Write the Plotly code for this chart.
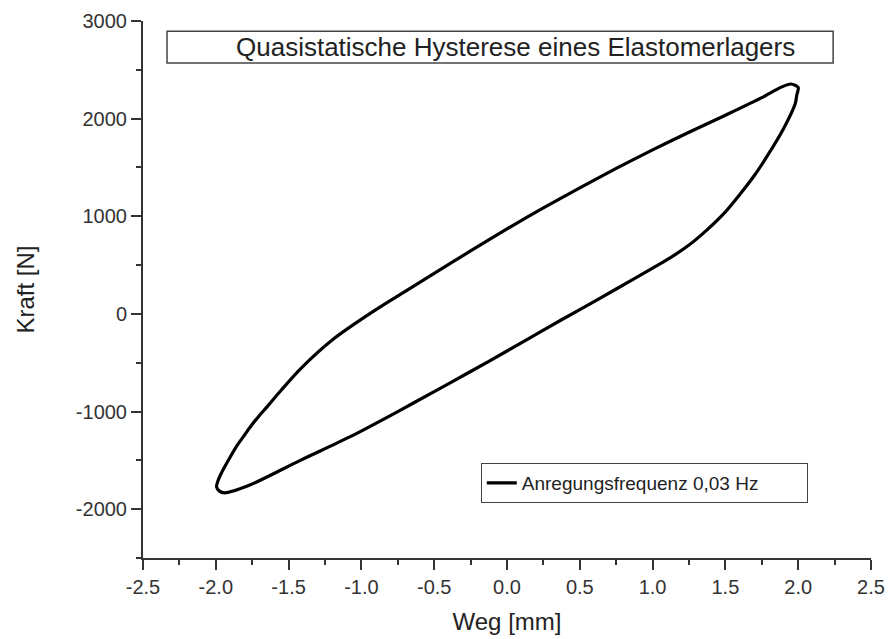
import plotly.graph_objects as go

# Quasistatic hysteresis loop of an elastomer mount (force vs. displacement)
# Loading branch (upper), from the lower-left turning point to the upper-right one
weg_auf = [-1.94, -1.975, -1.995, -1.985, -1.965, -1.935, -1.895, -1.85, -1.80, -1.765,
           -1.70, -1.65, -1.55, -1.42, -1.19, -0.96, -0.76, -0.50, -0.25, 0.00,
           0.25, 0.50, 0.75, 1.00, 1.25, 1.50, 1.75, 1.88, 1.95, 2.00]
kraft_auf = [-1832, -1815, -1770, -1710, -1640, -1555, -1450, -1340, -1235, -1160,
             -1040, -955, -780, -565, -255, -15, 175, 415, 645, 870,
             1085, 1290, 1490, 1680, 1860, 2035, 2215, 2320, 2355, 2320]

# Unloading branch (lower), back to the starting point
weg_ab = [1.99, 1.98, 1.90, 1.78, 1.70, 1.60, 1.50, 1.37, 1.25, 1.10,
          1.00, 0.75, 0.50, 0.25, 0.00, -0.25, -0.50, -0.75, -1.08, -1.42,
          -1.77, -1.94]
kraft_ab = [2240, 2155, 1900, 1600, 1420, 1225, 1045, 855, 705, 555,
            470, 255, 45, -165, -380, -590, -795, -1000, -1260, -1500,
            -1755, -1832]

x_ticks = [-2.5, -2.0, -1.5, -1.0, -0.5, 0.0, 0.5, 1.0, 1.5, 2.0, 2.5]
x_ticktext = ["-2.5", "-2.0", "-1.5", "-1.0", "-0.5", "0.0", "0.5", "1.0", "1.5", "2.0", "2.5"]
y_ticks = [-2000, -1000, 0, 1000, 2000, 3000]
y_ticktext = ["-2000", "-1000", "0", "1000", "2000", "3000"]

titel = "Quasistatische Hysterese eines Elastomerlagers"
legende = "Anregungsfrequenz 0,03 Hz"

FONT = "Liberation Sans, Arial, sans-serif"
AXC = "#333333"
TXT = "#222222"

fig = go.Figure()
fig.add_trace(go.Scatter(
    x=weg_auf + weg_ab,
    y=kraft_auf + kraft_ab,
    mode="lines",
    line=dict(color="black", width=3.2, shape="spline", smoothing=0.8),
    name=legende,
))

axis_common = dict(
    showline=True, linecolor=AXC, linewidth=2,
    ticks="outside", ticklen=10, tickwidth=2, tickcolor=AXC,
    showgrid=False, zeroline=False, automargin=False,
    tickfont=dict(family=FONT, size=20, color="#333333"),
)

fig.update_layout(
    width=888, height=639,
    margin=dict(l=143, r=17, t=21, b=81),
    paper_bgcolor="white", plot_bgcolor="white",
    font=dict(family=FONT, color=TXT),
    xaxis=dict(
        range=[-2.5, 2.5], tickvals=x_ticks, ticktext=x_ticktext,
        minor=dict(ticks="outside", ticklen=5, tickwidth=2, tickcolor=AXC, dtick=0.25, tick0=-2.5),
        title=dict(text="Weg [mm]", font=dict(family=FONT, size=24, color=TXT), standoff=16),
        **axis_common,
    ),
    yaxis=dict(
        range=[-2500, 3000], tickvals=y_ticks, ticktext=y_ticktext,
        minor=dict(ticks="outside", ticklen=5, tickwidth=2, tickcolor=AXC, dtick=500, tick0=-2500),
        title=dict(text="Kraft [N]", font=dict(family=FONT, size=24, color=TXT), standoff=34),
        **axis_common,
    ),
    showlegend=True,
    legend=dict(
        x=0.464, y=0.177, xanchor="left", yanchor="top",
        orientation="h", entrywidth=280, entrywidthmode="pixels",
        bordercolor="#444444", borderwidth=1, bgcolor="white",
        font=dict(family=FONT, size=19, color=TXT),
        itemwidth=30,
    ),
)

# Title in a framed box inside the plot area
fig.add_shape(type="rect", xref="paper", yref="paper",
              x0=0.033, x1=0.948, y0=0.922, y1=0.981,
              line=dict(color="#444444", width=1.5), fillcolor="white", layer="below")
fig.add_annotation(text=titel, xref="paper", yref="paper", x=0.512, y=0.952,
                   showarrow=False, xanchor="center", yanchor="middle",
                   font=dict(family=FONT, size=26, color=TXT))

fig.write_html("out.html")
